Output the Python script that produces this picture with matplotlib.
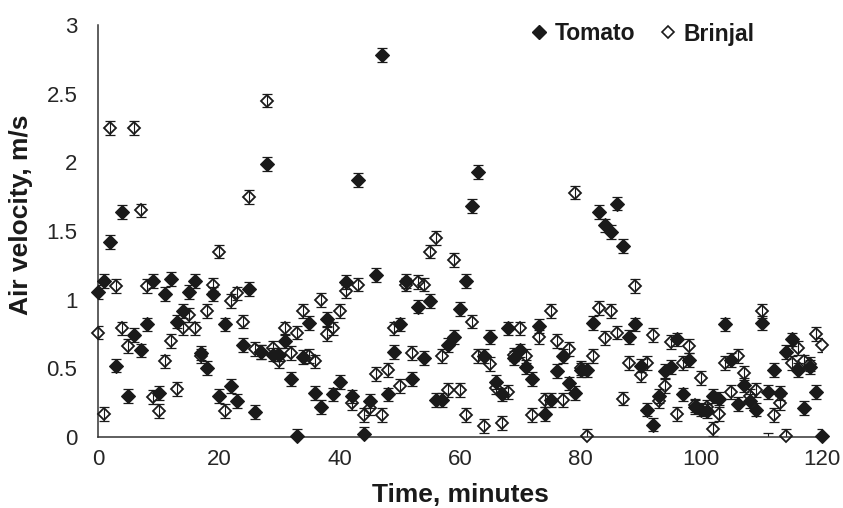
# =============================================================================
# MODULES
# -----------------------------------------------------------------------------
import numpy as np
import matplotlib
matplotlib.use('Agg')
import matplotlib.pyplot as plt
from matplotlib.lines import Line2D

# =============================================================================
# DATA  (air velocity, m/s, read every minute)
# -----------------------------------------------------------------------------
minutes = np.arange(0, 121)

tomato = [1.055, 1.135, 1.42, 0.52, 1.64, 0.30, 0.74, 0.63, 0.82, 1.135,
          0.32, 1.04, 1.15, 0.84, 0.92, 1.055, 1.135, 0.61, 0.50, 1.04,
          0.30, 0.82, 0.37, 0.26, 0.67, 1.075, 0.18, 0.62, 1.99, 0.60,
          0.60, 0.70, 0.42, 0.01, 0.58, 0.83, 0.32, 0.22, 0.86, 0.31,
          0.40, 1.13, 0.295, 1.87, 0.02, 0.26, 1.18, 2.78, 0.31, 0.62,
          0.82, 1.135, 0.42, 0.95, 0.575, 0.99, 0.27, 0.27, 0.67, 0.73,
          0.93, 1.135, 1.68, 1.93, 0.59, 0.73, 0.40, 0.31, 0.79, 0.575,
          0.63, 0.51, 0.42, 0.81, 0.17, 0.27, 0.48, 0.59, 0.39, 0.32,
          0.49, 0.49, 0.83, 1.64, 1.54, 1.49, 1.70, 1.39, 0.73, 0.82,
          0.52, 0.20, 0.09, 0.30, 0.48, 0.51, 0.71, 0.31, 0.56, 0.22,
          0.20, 0.19, 0.30, 0.28, 0.82, 0.56, 0.24, 0.38, 0.26, 0.20,
          0.83, 0.33, 0.49, 0.32, 0.62, 0.71, 0.49, 0.21, 0.51, 0.33,
          0.01]

brinjal = [0.76, 0.17, 2.25, 1.10, 0.79, 0.66, 2.25, 1.65, 1.10, 0.29,
           0.19, 0.55, 0.70, 0.35, 0.79, 0.89, 0.79, 0.59, 0.92, 1.11,
           1.35, 0.19, 0.99, 1.045, 0.84, 1.75, 0.64, 0.62, 2.45, 0.65,
           0.55, 0.79, 0.61, 0.76, 0.92, 0.59, 0.55, 1.00, 0.75, 0.79,
           0.92, 1.06, 0.25, 1.11, 0.16, 0.21, 0.46, 0.16, 0.49, 0.79,
           0.37, 1.11, 0.61, 1.13, 1.11, 1.35, 1.45, 0.59, 0.34, 1.29,
           0.34, 0.16, 0.84, 0.59, 0.08, 0.53, 0.36, 0.10, 0.33, 0.60,
           0.79, 0.59, 0.16, 0.73, 0.27, 0.92, 0.70, 0.27, 0.64, 1.78,
           0.50, 0.01, 0.59, 0.94, 0.72, 0.92, 0.76, 0.28, 0.54, 1.10,
           0.45, 0.54, 0.74, 0.26, 0.37, 0.69, 0.17, 0.54, 0.66, 0.23,
           0.43, 0.22, 0.06, 0.17, 0.54, 0.33, 0.59, 0.465, 0.30, 0.34,
           0.92, -0.02, 0.16, 0.25, 0.01, 0.54, 0.65, 0.55, 0.53, 0.75,
           0.67]

err = 0.05

xticks = [0, 20, 40, 60, 80, 100, 120]
yticks = [0, 0.5, 1, 1.5, 2, 2.5, 3]
ytick_labels = ['0', '0.5', '1', '1.5', '2', '2.5', '3']

# =============================================================================
# MAIN SCRIPT
# -----------------------------------------------------------------------------
plt.rcParams['font.family'] = ['Liberation Sans', 'DejaVu Sans']

tomato = np.array(tomato)
brinjal = np.array(brinjal)

fig = plt.figure(figsize=(8.43, 5.08), dpi=100)
ax = fig.add_axes([0.1166, 0.1398, 0.8584, 0.8110])

dark = '#1a1a1a'

# error bars first, markers on top
ax.errorbar(minutes, tomato, yerr=err, fmt='none', ecolor=dark,
            elinewidth=0.8, capsize=3.8, capthick=0.9, zorder=2)
ax.errorbar(minutes, brinjal, yerr=err, fmt='none', ecolor=dark,
            elinewidth=0.8, capsize=3.8, capthick=0.9, zorder=2)

# markers below the axis are hidden (only the bar shows)
b_show = np.where(brinjal < 0, np.nan, brinjal)

ax.plot(minutes, tomato, 'D', ms=6.8, mfc=dark, mec=dark, mew=0.8,
        clip_on=False, zorder=3)
ax.plot(minutes, b_show, 'D', ms=6.4, mfc='none', mec=dark, mew=1.3,
        clip_on=False, zorder=4)

ax.set_xlim(0, 120)
ax.set_ylim(0, 3)
ax.set_xticks(xticks)
ax.set_yticks(yticks)
ax.set_yticklabels(ytick_labels)

ax.spines['top'].set_visible(False)
ax.spines['right'].set_visible(False)
for s in ['left', 'bottom']:
    ax.spines[s].set_color('#333333')
    ax.spines[s].set_linewidth(1.1)

ax.tick_params(axis='both', length=0, labelsize=16, labelcolor='#262626')
ax.tick_params(axis='y', pad=15)
ax.tick_params(axis='x', pad=9)

ax.set_xlabel('Time, minutes', fontsize=19, fontweight='bold', color=dark)
ax.set_ylabel('Air velocity, m/s', fontsize=19, fontweight='bold', color=dark)
ax.xaxis.set_label_coords(0.5, -0.112)
ax.yaxis.set_label_coords(-0.09, 0.54)

handles = [Line2D([], [], ls='none', marker='D', ms=7, mfc=dark, mec=dark),
           Line2D([], [], ls='none', marker='D', ms=6.5, mfc='none',
                  mec=dark, mew=1.2)]
leg = fig.legend(handles, ['Tomato', 'Brinjal'], ncol=2, frameon=False,
                 loc='center left', bbox_to_anchor=(530 / 843, 1 - 34 / 508),
                 borderpad=0, borderaxespad=0, handlelength=0.8,
                 handletextpad=0.3, columnspacing=1.0,
                 prop={'size': 16.5, 'weight': 'bold'})
for t in leg.get_texts():
    t.set_color(dark)

plt.savefig('out.png', dpi=100)
